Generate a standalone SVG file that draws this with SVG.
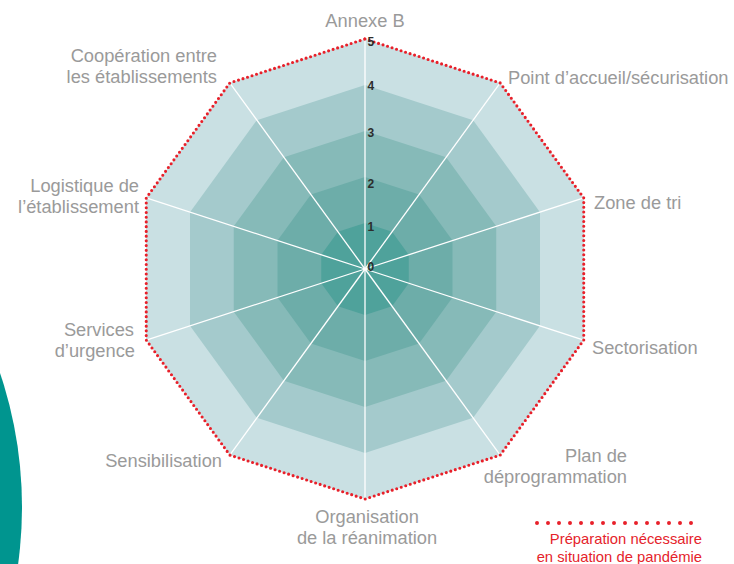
<svg xmlns="http://www.w3.org/2000/svg" xmlns:xlink="http://www.w3.org/1999/xlink" width="734" height="564" viewBox="0 0 734 564">
  <style>
    .lbl { font-family: "Liberation Sans", Arial, sans-serif; font-size: 18.3px; fill: #9a9a9a; }
    .tick { font-family: "Liberation Sans", Arial, sans-serif; font-size: 12px; font-weight: bold; fill: #2d2d2d; }
    .leg { font-family: "Liberation Sans", Arial, sans-serif; font-size: 14.8px; fill: #e5232b; }
    .axis { stroke: #ffffff; stroke-width: 1.3; }
  </style>
  <defs>
    <polygon id="deca" points="0,-1 0.5878,-0.809 0.9511,-0.309 0.9511,0.309 0.5878,0.809 0,1 -0.5878,0.809 -0.9511,0.309 -0.9511,-0.309 -0.5878,-0.809"/>
  </defs>
  <rect width="734" height="564" fill="#ffffff"/>
  <circle id="teal-shape" cx="-397" cy="507" r="419" fill="#00958f"/>

  <g id="bands">
    <use xlink:href="#deca" transform="translate(365 269) scale(230)" fill="#c9e0e3"/>
    <use xlink:href="#deca" transform="translate(365 269) scale(184)" fill="#a4cacc"/>
    <use xlink:href="#deca" transform="translate(365 269) scale(138)" fill="#86bab8"/>
    <use xlink:href="#deca" transform="translate(365 269) scale(92)" fill="#6dada9"/>
    <use xlink:href="#deca" transform="translate(365 269) scale(46)" fill="#4fa29b"/>
  </g>

  <g id="connectors">
    <line class="axis" x1="365" y1="269" x2="365" y2="39"/>
    <line class="axis" x1="365" y1="269" x2="500.19" y2="82.93"/>
    <line class="axis" x1="365" y1="269" x2="583.75" y2="197.93"/>
    <line class="axis" x1="365" y1="269" x2="583.75" y2="340.07"/>
    <line class="axis" x1="365" y1="269" x2="500.19" y2="455.07"/>
    <line class="axis" x1="365" y1="269" x2="365" y2="499"/>
    <line class="axis" x1="365" y1="269" x2="229.81" y2="455.07"/>
    <line class="axis" x1="365" y1="269" x2="146.25" y2="340.07"/>
    <line class="axis" x1="365" y1="269" x2="146.25" y2="197.93"/>
    <line class="axis" x1="365" y1="269" x2="229.81" y2="82.93"/>
  </g>

  <polygon id="target-line" points="365,39 500.19,82.93 583.75,197.93 583.75,340.07 500.19,455.07 365,499 229.81,455.07 146.25,340.07 146.25,197.93 229.81,82.93" fill="none" stroke="#e8202a" stroke-width="3.1" stroke-linecap="round" stroke-dasharray="0 4.737"/>

  <g id="ticks">
    <text class="tick" x="367.5" y="271">0</text>
    <text class="tick" x="367.5" y="231">1</text>
    <text class="tick" x="367.5" y="188">2</text>
    <text class="tick" x="367.5" y="137">3</text>
    <text class="tick" x="367.5" y="90">4</text>
    <text class="tick" x="367.5" y="46">5</text>
  </g>

  <g id="node-annexe-b"><text class="lbl" x="365" y="27" text-anchor="middle">Annexe B</text></g>
  <g id="node-point-accueil"><text class="lbl" x="508" y="84">Point d’accueil/sécurisation</text></g>
  <g id="node-zone-tri"><text class="lbl" x="594" y="209">Zone de tri</text></g>
  <g id="node-sectorisation"><text class="lbl" x="592" y="354">Sectorisation</text></g>
  <g id="node-plan-deprogrammation">
    <text class="lbl" x="627" y="462" text-anchor="end">Plan de</text>
    <text class="lbl" x="627" y="483" text-anchor="end">déprogrammation</text>
  </g>
  <g id="node-organisation-reanimation">
    <text class="lbl" x="367" y="523" text-anchor="middle">Organisation</text>
    <text class="lbl" x="367" y="544" text-anchor="middle">de la réanimation</text>
  </g>
  <g id="node-sensibilisation"><text class="lbl" x="222" y="467" text-anchor="end">Sensibilisation</text></g>
  <g id="node-services-urgence">
    <text class="lbl" x="134" y="336" text-anchor="end">Services</text>
    <text class="lbl" x="135" y="357" text-anchor="end">d’urgence</text>
  </g>
  <g id="node-logistique">
    <text class="lbl" x="139" y="192" text-anchor="end">Logistique de</text>
    <text class="lbl" x="139" y="213" text-anchor="end">l’établissement</text>
  </g>
  <g id="node-cooperation">
    <text class="lbl" x="217" y="62" text-anchor="end">Coopération entre</text>
    <text class="lbl" x="217" y="83" text-anchor="end">les établissements</text>
  </g>

  <g id="legend">
    <line x1="537" y1="523" x2="702" y2="523" stroke="#e8202a" stroke-width="4" stroke-linecap="round" stroke-dasharray="0 11"/>
    <text class="leg" x="702" y="544" text-anchor="end">Préparation nécessaire</text>
    <text class="leg" x="702" y="562" text-anchor="end">en situation de pandémie</text>
  </g>
</svg>
